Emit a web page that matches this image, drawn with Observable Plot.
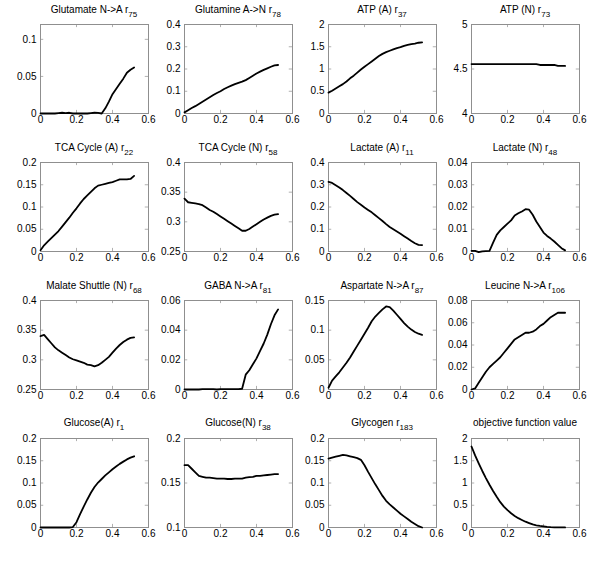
<!DOCTYPE html>
<html><head><meta charset="utf-8">
<script src="https://cdn.jsdelivr.net/npm/d3@7"></script>
<script src="https://cdn.jsdelivr.net/npm/@observablehq/plot@0.6"></script>
<style>
body{margin:0;background:#fff;}
#wrap{position:relative;width:600px;height:564px;font-family:"Liberation Sans",Arial,sans-serif;background:#fff;}
.title{position:absolute;text-align:center;font-size:10px;color:#000;white-space:nowrap;line-height:12px;}
.title sub{font-size:8px;vertical-align:baseline;position:relative;top:4px;line-height:0;}
.cell{position:absolute;}
</style></head><body><div id="wrap"></div>
<script>
// ---- data ----
const xs = [0,0.02,0.04,0.06,0.08,0.10,0.12,0.14,0.16,0.18,0.20,0.22,0.24,0.26,0.28,0.30,0.32,0.34,0.36,0.38,0.40,0.42,0.44,0.46,0.48,0.50,0.52];
const xTicks = [0,0.2,0.4,0.6];

const titles = ["Glutamate N->A r","Glutamine A->N r","ATP (A) r","ATP (N) r",
  "TCA Cycle (A) r","TCA Cycle (N) r","Lactate (A) r","Lactate (N) r",
  "Malate Shuttle (N) r","GABA N->A r","Aspartate N->A r","Leucine N->A r",
  "Glucose(A) r","Glucose(N) r","Glycogen r","objective function value"];
const subs = ["75","78","37","73","22","58","11","48","68","81","87","106","1","38","183",""];

const yDomains = [[0,0.12],[0,0.4],[0,2],[4,5],[0,0.2],[0.25,0.4],[0,0.4],[0,0.04],
  [0.25,0.4],[0,0.06],[0,0.15],[0,0.08],[0,0.2],[0.1,0.2],[0,0.2],[0,2]];
const yTicks = [[0,0.05,0.1],[0,0.1,0.2,0.3,0.4],[0,0.5,1,1.5,2],[4,4.5,5],
  [0,0.05,0.1,0.15,0.2],[0.25,0.3,0.35,0.4],[0,0.1,0.2,0.3,0.4],[0,0.01,0.02,0.03,0.04],
  [0.25,0.3,0.35,0.4],[0,0.02,0.04,0.06],[0,0.05,0.1,0.15],[0,0.02,0.04,0.06,0.08],
  [0,0.05,0.1,0.15,0.2],[0.1,0.15,0.2],[0,0.05,0.1,0.15,0.2],[0,0.5,1,1.5,2]];

const glutamateNA = [0,0,0,0,0,0.0005,0.001,0.0005,0.001,0,0,0,0,0,0.0005,0.001,0.0008,0,0.007,0.016,0.026,0.033,0.040,0.047,0.055,0.059,0.062];
const glutamineAN = [0.005,0.015,0.025,0.033,0.043,0.053,0.063,0.073,0.083,0.092,0.100,0.110,0.118,0.125,0.132,0.138,0.143,0.150,0.160,0.170,0.180,0.188,0.196,0.203,0.210,0.216,0.218];
const atpA = [0.47,0.51,0.56,0.61,0.66,0.72,0.79,0.85,0.92,0.99,1.05,1.11,1.17,1.23,1.29,1.34,1.38,1.41,1.44,1.47,1.49,1.52,1.54,1.56,1.57,1.59,1.60];
const atpN = [4.555,4.555,4.555,4.555,4.555,4.555,4.555,4.555,4.555,4.555,4.555,4.555,4.555,4.555,4.555,4.555,4.555,4.555,4.555,4.545,4.545,4.545,4.545,4.545,4.535,4.535,4.535];
const tcaA = [0.003,0.014,0.022,0.030,0.038,0.046,0.056,0.066,0.076,0.087,0.097,0.108,0.118,0.126,0.134,0.142,0.148,0.150,0.152,0.154,0.156,0.159,0.162,0.162,0.162,0.163,0.170];
const tcaN = [0.339,0.333,0.332,0.331,0.330,0.328,0.324,0.320,0.317,0.313,0.309,0.305,0.301,0.297,0.293,0.289,0.285,0.285,0.288,0.292,0.296,0.300,0.304,0.307,0.310,0.312,0.313];
const lactateA = [0.313,0.308,0.298,0.288,0.276,0.263,0.250,0.236,0.222,0.210,0.198,0.187,0.176,0.163,0.150,0.137,0.123,0.110,0.100,0.090,0.080,0.069,0.058,0.047,0.037,0.030,0.029];
const lactateN = [0.0003,0.0003,-0.0003,0.0001,0.0002,0.0003,0.004,0.0075,0.0095,0.011,0.0125,0.014,0.0162,0.0172,0.018,0.019,0.0188,0.0165,0.0135,0.011,0.0085,0.007,0.0058,0.0045,0.003,0.0015,0.0005];
const malateN = [0.340,0.342,0.335,0.328,0.321,0.316,0.312,0.308,0.304,0.301,0.299,0.297,0.295,0.292,0.291,0.289,0.291,0.295,0.300,0.305,0.312,0.319,0.325,0.330,0.334,0.337,0.338];
const gabaNA = [0,0,0,0,0,0.0002,0.0003,0.0003,0.0002,0,0.0002,0.0002,0.0002,0.0002,0.0003,0.0003,0.0005,0.010,0.013,0.017,0.021,0.026,0.031,0.037,0.044,0.050,0.054];
const aspartateNA = [0.003,0.015,0.022,0.029,0.037,0.045,0.054,0.064,0.074,0.084,0.094,0.104,0.115,0.123,0.129,0.135,0.140,0.139,0.133,0.126,0.119,0.112,0.106,0.101,0.097,0.094,0.092];
const leucineNA = [0,0.001,0.006,0.011,0.016,0.020,0.023,0.026,0.029,0.033,0.037,0.041,0.045,0.047,0.049,0.051,0.051,0.052,0.054,0.057,0.059,0.062,0.065,0.067,0.069,0.069,0.069];
const glucoseA = [0,0,0,0,0,0,0,0,0,0.001,0.012,0.030,0.047,0.063,0.078,0.091,0.101,0.109,0.117,0.124,0.131,0.137,0.143,0.148,0.153,0.157,0.160];
const glucoseN = [0.170,0.170,0.166,0.162,0.158,0.157,0.156,0.156,0.1555,0.155,0.155,0.155,0.1545,0.1545,0.155,0.155,0.155,0.156,0.1565,0.157,0.158,0.158,0.1585,0.159,0.1595,0.160,0.160];
const glycogen = [0.155,0.157,0.159,0.161,0.163,0.162,0.160,0.158,0.156,0.152,0.140,0.125,0.111,0.097,0.084,0.071,0.060,0.052,0.045,0.038,0.031,0.025,0.019,0.013,0.008,0.003,0];
const objective = [1.82,1.62,1.44,1.27,1.11,0.96,0.82,0.69,0.57,0.47,0.39,0.32,0.26,0.21,0.17,0.13,0.10,0.07,0.05,0.035,0.025,0.015,0.008,0.004,0.003,0.002,0.002];

const series = [glutamateNA,glutamineAN,atpA,atpN,tcaA,tcaN,lactateA,lactateN,
  malateN,gabaNA,aspartateNA,leucineNA,glucoseA,glucoseN,glycogen,objective];

// ---- layout ----
const colLeft = [40,184,328,471];
const rowTop = [24,162,300,437.5];
const ML = 34, MR = 4, MT = 6, MB = 20, FW = 108, FH = 89;
const fmt = d => String(+(+d).toFixed(6));
const wrap = document.getElementById("wrap");

series.forEach((vals, i) => {
  const r = Math.floor(i/4), c = i % 4;
  const [d0, d1] = yDomains[i];
  const span = d1 - d0;
  const data = xs.map((x, k) => ({x, y: vals[k]}));
  const chart = Plot.plot({
    width: ML + FW + MR, height: MT + FH + MB,
    marginLeft: ML, marginRight: MR, marginTop: MT, marginBottom: MB,
    style: {background: "transparent", fontFamily: "Liberation Sans, Arial, sans-serif", fontSize: "10px", overflow: "visible", color: "#000"},
    x: {domain: [0, 0.6]},
    y: {domain: yDomains[i]},
    marks: [
      Plot.ruleX(xTicks, {x: d => d, y1: d0, y2: d0 + span*0.035, stroke: "#b0b0b0"}),
      Plot.ruleX(xTicks, {x: d => d, y1: d1, y2: d1 - span*0.035, stroke: "#b0b0b0"}),
      Plot.ruleY(yTicks[i], {y: d => d, x1: 0, x2: 0.6*0.03, stroke: "#b0b0b0"}),
      Plot.ruleY(yTicks[i], {y: d => d, x1: 0.6, x2: 0.6*0.97, stroke: "#b0b0b0"}),
      Plot.frame({stroke: "#8f8f8f"}),
      Plot.axisX({ticks: xTicks, tickSize: 0, tickPadding: 2, tickFormat: fmt, label: null, fill: "#000"}),
      Plot.axisY({ticks: yTicks[i], tickSize: 0, tickPadding: 4, tickFormat: fmt, label: null, fill: "#000"}),
      Plot.line(data, {x: "x", y: "y", stroke: "#000", strokeWidth: 1.8})
    ]
  });
  const cell = document.createElement("div");
  cell.className = "cell";
  cell.style.left = (colLeft[c] - ML) + "px";
  cell.style.top = (rowTop[r] - MT) + "px";
  cell.appendChild(chart);
  wrap.appendChild(cell);

  const t = document.createElement("div");
  t.className = "title";
  t.style.left = colLeft[c] + "px";
  t.style.width = FW + "px";
  t.style.top = (rowTop[r] - 20.5) + "px";
  t.textContent = titles[i];
  if (subs[i]) {
    const s = document.createElement("sub");
    s.textContent = subs[i];
    t.appendChild(s);
  }
  wrap.appendChild(t);
});
</script></body></html>
